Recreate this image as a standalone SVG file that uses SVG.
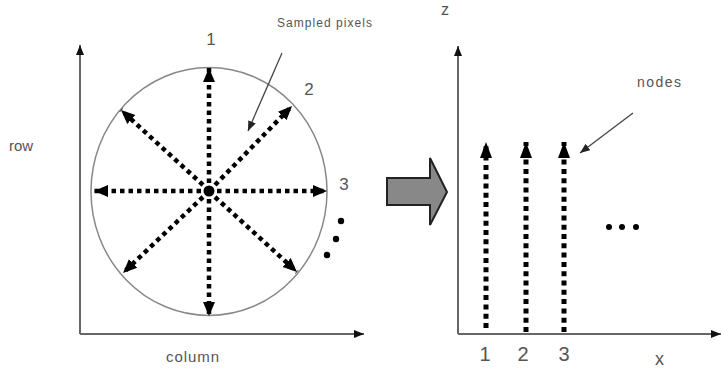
<svg xmlns="http://www.w3.org/2000/svg" width="722" height="373" viewBox="0 0 722 373">
<style>
text{font-family:"Liberation Sans",Arial,sans-serif;fill:#555}
.axis{stroke:#666;stroke-width:2;fill:none}
.dots{stroke:#000;stroke-width:4.5;stroke-dasharray:4.5 4;fill:none}
.vdots{stroke:#000;stroke-width:5;stroke-dasharray:5 4.3;fill:none}
.ptr{stroke:#444;stroke-width:1.3;fill:none}
</style>
<defs>
<marker id="ah" markerUnits="userSpaceOnUse" markerWidth="14" markerHeight="14" viewBox="0 0 14 12" refX="14" refY="6" orient="auto"><path d="M0,0 L14,6 L0,12 Z" fill="#000"/></marker>
<marker id="vh" markerUnits="userSpaceOnUse" markerWidth="16" markerHeight="12" viewBox="0 0 16 12" refX="16" refY="6" orient="auto"><path d="M0,0 L16,6 L0,12 Z" fill="#000"/></marker>
<marker id="axh" markerUnits="userSpaceOnUse" markerWidth="10" markerHeight="8" viewBox="0 0 10 8" refX="10" refY="4" orient="auto"><path d="M0,0 L10,4 L0,8 Z" fill="#111"/></marker>
<marker id="ph" markerUnits="userSpaceOnUse" markerWidth="10" markerHeight="8" viewBox="0 0 10 8" refX="10" refY="4" orient="auto"><path d="M0,0 L10,4 L0,8 Z" fill="#222"/></marker>
</defs>

<g id="left-axes">
<line class="axis" x1="80" y1="334" x2="80" y2="45" marker-end="url(#axh)"/>
<line class="axis" x1="80" y1="334" x2="364" y2="334" marker-end="url(#axh)"/>
<text x="9" y="151" font-size="15">row</text>
<text x="166" y="362" font-size="15" textLength="53">column</text>
</g>

<g id="circle">
<ellipse cx="209" cy="191.5" rx="118" ry="124" fill="none" stroke="#888" stroke-width="1.5"/>
<circle cx="209" cy="191" r="5.5" fill="#000"/>
</g>

<g id="connectors">
<line class="dots" x1="209" y1="183" x2="209" y2="68" marker-end="url(#ah)"/>
<line class="dots" x1="209" y1="199" x2="209" y2="316" marker-end="url(#ah)"/>
<line class="dots" x1="201" y1="191" x2="94" y2="191" marker-end="url(#ah)"/>
<line class="dots" x1="217" y1="191" x2="327" y2="191" marker-end="url(#ah)"/>
<line class="dots" x1="215" y1="185" x2="292" y2="106" marker-end="url(#ah)"/>
<line class="dots" x1="203" y1="185" x2="121" y2="110" marker-end="url(#ah)"/>
<line class="dots" x1="203" y1="197" x2="123" y2="273" marker-end="url(#ah)"/>
<line class="dots" x1="215" y1="197" x2="297" y2="272" marker-end="url(#ah)"/>
<line class="ptr" x1="282" y1="53" x2="248" y2="131" marker-end="url(#ph)"/>
<line class="ptr" x1="633" y1="113" x2="580" y2="153" marker-end="url(#ph)"/>
<line class="vdots" x1="486" y1="328" x2="486" y2="142" marker-end="url(#vh)"/>
<line class="vdots" x1="526" y1="332" x2="526" y2="142" marker-end="url(#vh)"/>
<line class="vdots" x1="564" y1="332" x2="564" y2="142" marker-end="url(#vh)"/>
</g>

<g id="left-labels">
<text x="211" y="45" font-size="17" text-anchor="middle">1</text>
<text x="309" y="95" font-size="17" text-anchor="middle">2</text>
<text x="344" y="190" font-size="17" text-anchor="middle">3</text>
<text x="277" y="27" font-size="12" textLength="95">Sampled pixels</text>
<circle cx="341" cy="221" r="3.2" fill="#000"/>
<circle cx="336" cy="239" r="3.2" fill="#000"/>
<circle cx="327" cy="255" r="3.2" fill="#000"/>
</g>

<g id="big-arrow">
<path d="M387,178 L430,178 L430,158 L447,192 L430,225 L430,205 L387,205 Z" fill="#888" stroke="#222" stroke-width="2"/>
</g>

<g id="right-axes">
<line class="axis" x1="458" y1="334" x2="458" y2="46" marker-end="url(#axh)"/>
<line class="axis" x1="458" y1="334" x2="721" y2="334" marker-end="url(#axh)"/>
<text x="441" y="15" font-size="16">z</text>
<text x="655" y="365" font-size="18">x</text>
</g>

<g id="right-labels">
<text x="485" y="361" font-size="20" text-anchor="middle">1</text>
<text x="523" y="361" font-size="20" text-anchor="middle">2</text>
<text x="564" y="361" font-size="20" text-anchor="middle">3</text>
<text x="637" y="87" font-size="14" textLength="44">nodes</text>
<circle cx="609" cy="227" r="3" fill="#000"/>
<circle cx="622" cy="227" r="3" fill="#000"/>
<circle cx="636" cy="227" r="3" fill="#000"/>
</g>
</svg>
